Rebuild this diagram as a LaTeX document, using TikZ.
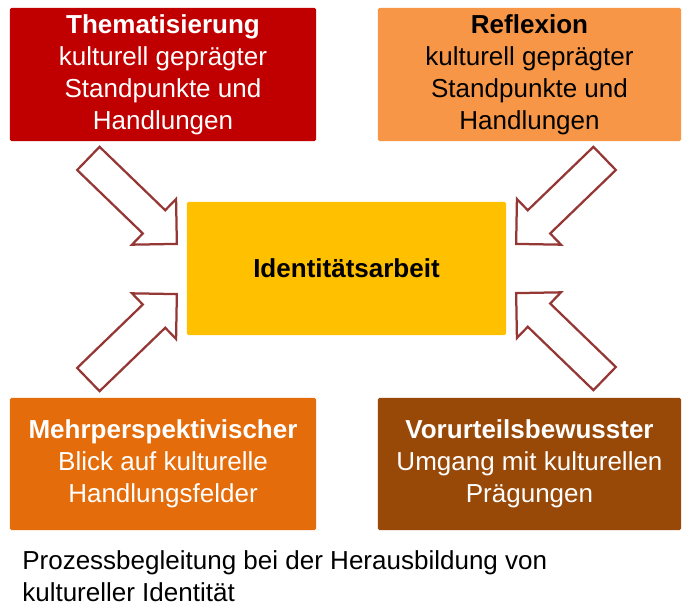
\documentclass[tikz,border=0pt]{standalone}
\usepackage{fontspec}
\setmainfont{Liberation Sans}
\usepackage{xcolor}
\usepackage{tikz}
\usetikzlibrary{shapes.arrows}
\definecolor{darkred}{RGB}{192,0,0}
\definecolor{softorange}{RGB}{247,150,70}
\definecolor{gold}{RGB}{255,192,0}
\definecolor{deeporange}{RGB}{228,108,10}
\definecolor{rust}{RGB}{152,72,7}
\definecolor{arrowred}{RGB}{149,55,53}

\begin{document}
\begin{tikzpicture}[x=0.025cm,y=-0.025cm,
    box/.style={rounded corners=1pt,align=center,inner sep=0pt,minimum height=3.325cm,font=\fontsize{18.5}{22.8}\selectfont},
    bigarrow/.style={single arrow,draw=arrowred,fill=white,line width=1.6pt,inner xsep=0pt,inner ysep=0.375cm,minimum height=3.075cm,single arrow head extend=0.39cm,single arrow tip angle=90,anchor=tip}]
        \useasboundingbox (0,0) rectangle (691,612);
        \node[box,fill=darkred,text=white,minimum width=7.65cm] (them) at (163,74.5) {\textbf{Thematisierung}\\kulturell geprägter\\Standpunkte und\\Handlungen};
        \node[box,fill=softorange,text=black,minimum width=7.575cm] (refl) at (529.5,74.5) {\textbf{Reflexion}\\kulturell geprägter\\Standpunkte und\\Handlungen};
        \node[box,fill=gold,text=black,minimum width=7.975cm] (ident) at (346.5,268.5) {\textbf{Identitätsarbeit}};
        \node[box,fill=deeporange,text=white,minimum width=7.65cm,minimum height=3.3cm] (mehr) at (163,464) {\textbf{Mehrperspektivischer}\\Blick auf kulturelle\\Handlungsfelder};
        \node[box,fill=rust,text=white,minimum width=7.575cm,minimum height=3.3cm] (vorurt) at (529.5,464) {\textbf{Vorurteilsbewusster}\\Umgang mit kulturellen\\Prägungen};
        \node[bigarrow,rotate=-44] (a1) at (178,245) {};
        \node[bigarrow,rotate=-136] (a2) at (515,245) {};
        \node[bigarrow,rotate=44] (a3) at (178,293) {};
        \node[bigarrow,rotate=136] (a4) at (515,292) {};
        \node[anchor=north west,align=left,inner sep=0pt,font=\fontsize{18.5}{22.8}\selectfont] (caption) at (22,550) {Prozessbegleitung bei der Herausbildung von\\kultureller Identität};
      \end{tikzpicture}
\end{document}
